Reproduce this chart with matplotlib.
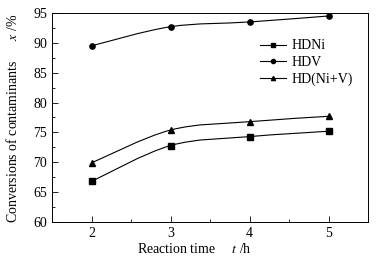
import matplotlib.pyplot as plt
import numpy as np
from matplotlib.path import Path
from matplotlib.patches import PathPatch
from matplotlib.lines import Line2D
from matplotlib.ticker import MultipleLocator

plt.rcParams['font.family'] = ['Liberation Serif', 'DejaVu Serif']
plt.rcParams['mathtext.fontset'] = 'stix'

hours = [2, 3, 4, 5]
hdni = [66.8, 72.8, 74.3, 75.2]
hdv = [89.5, 92.7, 93.5, 94.5]
hdniv = [69.9, 75.4, 76.8, 77.7]
names = ['HDNi', 'HDV', 'HD(Ni+V)']
markers = ['s', 'o', '^']


def smooth_path(xs, ys):
    # Catmull-Rom curve drawn as cubic bezier segments through the points
    p = np.column_stack([xs, ys]).astype(float)
    verts = [p[0]]
    codes = [Path.MOVETO]
    n = len(p)
    for i in range(n - 1):
        p0 = p[i - 1] if i > 0 else p[i]
        p3 = p[i + 2] if i + 2 < n else p[i + 1]
        c1 = p[i] + (p[i + 1] - p0) / 6
        c2 = p[i + 1] - (p3 - p[i]) / 6
        verts += [c1, c2, p[i + 1]]
        codes += [Path.CURVE4] * 3
    return Path(verts, codes)


fig = plt.figure(figsize=(3.9, 2.65), dpi=100)
ax = fig.add_axes([52 / 390, 1 - 222 / 265, 316 / 390, 209 / 265])

for ys, m in zip([hdni, hdv, hdniv], markers):
    ax.add_patch(PathPatch(smooth_path(hours, ys), fill=False, lw=0.8, color='black'))
    ax.plot(hours, ys, ls='none', marker=m, ms=3.8, color='black')

ax.set_xlim(1.5, 5.5)
ax.set_ylim(60, 95)
ax.xaxis.set_major_locator(MultipleLocator(1))
ax.xaxis.set_minor_locator(MultipleLocator(0.5))
ax.yaxis.set_major_locator(MultipleLocator(5))
ax.yaxis.set_minor_locator(MultipleLocator(2.5))
ax.tick_params(which='both', direction='in', labelsize=10, top=False, right=False)
ax.tick_params(which='major', length=4, width=0.6)
ax.tick_params(which='minor', length=2, width=0.6)
for s in ax.spines.values():
    s.set_linewidth(0.7)

fig.text(194 / 390, 1 - 249 / 265, 'Reaction time     $t$ /h', ha='center', va='center', fontsize=10)
fig.text(13 / 390, 1 - 118 / 265, 'Conversions of contaminants      $x$ /%', ha='center', va='center',
         rotation=90, fontsize=10)

handles = [Line2D([], [], color='black', lw=0.8, marker=m, ms=3) for m in markers]
ax.legend(handles, names, loc='upper left', bbox_to_anchor=(0.64, 0.9), frameon=False,
          fontsize=10, handlelength=1.9, handletextpad=0.4, labelspacing=0.25, borderaxespad=0)

fig.savefig('out.png', dpi=100)
